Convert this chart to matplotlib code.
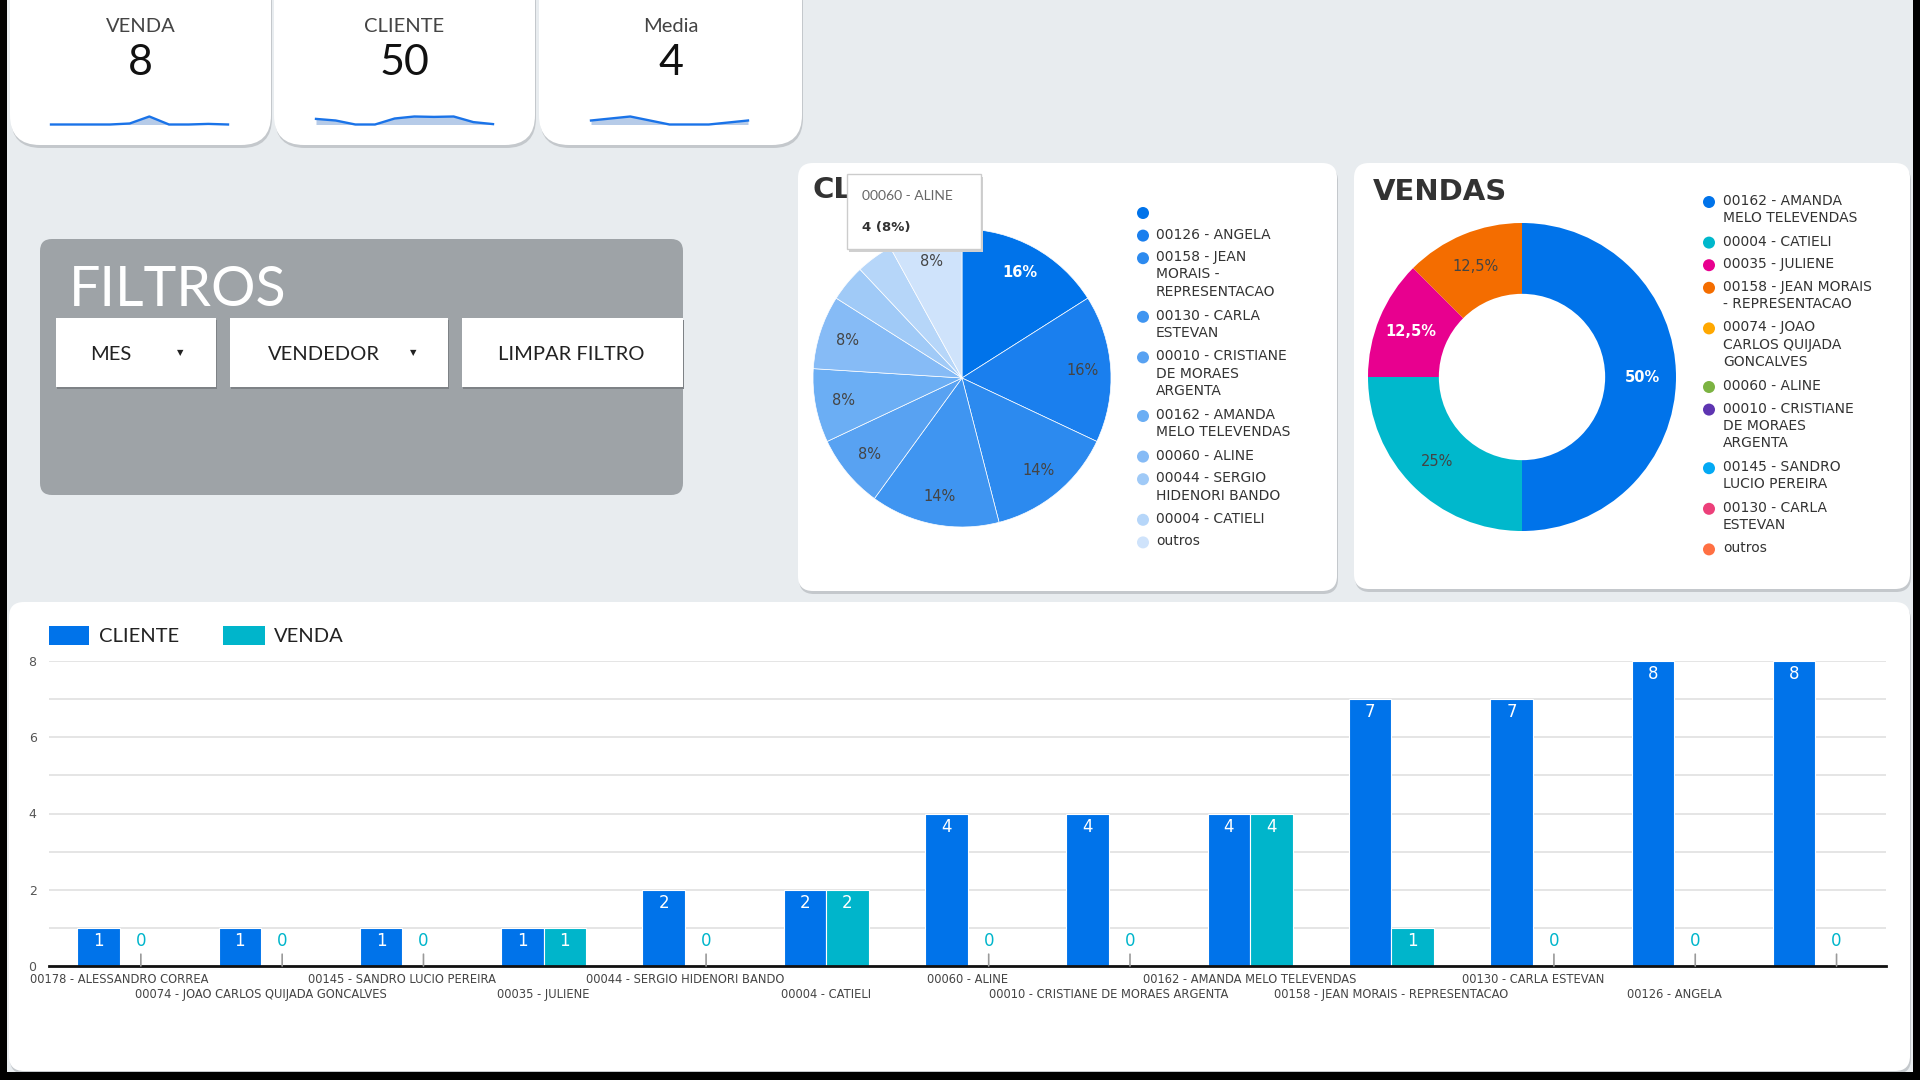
import matplotlib
matplotlib.use('Agg')
import matplotlib.pyplot as plt
from matplotlib.patches import FancyBboxPatch, Rectangle, Circle
import numpy as np

W, H = 1920, 1080
fig = plt.figure(figsize=(19.2, 10.8), dpi=100)
fig.patch.set_facecolor('#E8ECEF')

# ---------------- data ----------------
kpi_titles = ['VENDA', 'CLIENTE', 'Media']
kpi_values = ['8', '50', '4']
spark_venda = [0, 0, 0, 0, 0.5, 4, 0, 0, 0.3, 0]
spark_cliente = [7, 5, 0, 0, 7.5, 10, 9.5, 10, 3, 0.5]
spark_media = [2, 4, 0, 0, 2]

vendedores = ['00178 - ALESSANDRO CORREA', '00074 - JOAO CARLOS QUIJADA GONCALVES',
              '00145 - SANDRO LUCIO PEREIRA', '00035 - JULIENE',
              '00044 - SERGIO HIDENORI BANDO', '00004 - CATIELI', '00060 - ALINE',
              '00010 - CRISTIANE DE MORAES ARGENTA', '00162 - AMANDA MELO TELEVENDAS',
              '00158 - JEAN MORAIS - REPRESENTACAO', '00130 - CARLA ESTEVAN',
              '00126 - ANGELA', '']
cliente = [1, 1, 1, 1, 2, 2, 4, 4, 4, 7, 7, 8, 8]
venda = [0, 0, 0, 1, 0, 2, 0, 0, 4, 1, 0, 0, 0]

pie_labels = ['', '00126 - ANGELA', '00158 - JEAN\nMORAIS -\nREPRESENTACAO',
              '00130 - CARLA\nESTEVAN', '00010 - CRISTIANE\nDE MORAES\nARGENTA',
              '00162 - AMANDA\nMELO TELEVENDAS', '00060 - ALINE',
              '00044 - SERGIO\nHIDENORI BANDO', '00004 - CATIELI', 'outros']
pie_values = [8, 8, 7, 7, 4, 4, 4, 2, 2, 4]
pie_colors = ['#0073EA', '#1A7FEE', '#2C8AEF', '#3F95F1', '#58A2F2', '#6BAEF4',
              '#86BBF6', '#A0CAF7', '#B6D6F9', '#CFE3FB']

donut_labels = ['00162 - AMANDA\nMELO TELEVENDAS', '00004 - CATIELI', '00035 - JULIENE',
                '00158 - JEAN MORAIS\n- REPRESENTACAO', '00074 - JOAO\nCARLOS QUIJADA\nGONCALVES',
                '00060 - ALINE', '00010 - CRISTIANE\nDE MORAES\nARGENTA',
                '00145 - SANDRO\nLUCIO PEREIRA', '00130 - CARLA\nESTEVAN', 'outros']
donut_values = [4, 2, 1, 1, 0, 0, 0, 0, 0, 0]
donut_colors = ['#0073EA', '#00B8CC', '#E8008F', '#F46D00', '#FFA800', '#7CB342',
                '#5E35B1', '#03A9F4', '#EC407A', '#FF7043']

C_BLUE = '#0073EA'
C_TEAL = '#00B5CB'


def px_axes(x0, y0, x1, y1, **kw):
    return fig.add_axes([x0 / W, 1 - y1 / H, (x1 - x0) / W, (y1 - y0) / H], **kw)


bg = fig.add_axes([0, 0, 1, 1])
bg.set_xlim(0, W)
bg.set_ylim(H, 0)
bg.axis('off')


def card(ax, x0, y0, x1, y1, r=15, fc='white', shadow=True, z=1):
    if shadow:
        ax.add_patch(FancyBboxPatch((x0 + 1, y0 + 3), x1 - x0, y1 - y0,
                                    boxstyle=f'round,pad=0,rounding_size={r}',
                                    fc='#C4C8CC', ec='none', zorder=z))
    ax.add_patch(FancyBboxPatch((x0, y0), x1 - x0, y1 - y0,
                                boxstyle=f'round,pad=0,rounding_size={r}',
                                fc=fc, ec='none', zorder=z + 0.5))


# ---------------- KPI cards ----------------
kpi_boxes = [(10, 271), (274, 535), (539, 802)]
for (x0, x1), t, v in zip(kpi_boxes, kpi_titles, kpi_values):
    card(bg, x0, -30, x1, 145, r=30)
    cx = (x0 + x1) / 2
    bg.text(cx, 26, t, ha='center', va='center', fontsize=14.5, color='#444444',
            family='Lato', zorder=5)
    bg.text(cx, 63, v, ha='center', va='center', fontsize=31, color='#111111',
            family='Lato', zorder=5)

for vals, (x0, x1) in zip([spark_venda, spark_cliente, spark_media],
                          [(51, 228), (316, 493), (591, 748)]):
    a = px_axes(x0, 116.5, x1, 124.5)
    xs = np.arange(len(vals))
    a.fill_between(xs, 0, vals, color='#B6CBE8', lw=0)
    a.plot(xs, vals, color='#1A73E8', lw=1.7, clip_on=False)
    a.set_xlim(0, len(vals) - 1)
    a.set_ylim(0, max(vals))
    a.axis('off')

# ---------------- FILTROS panel ----------------
bg.add_patch(FancyBboxPatch((40, 239), 643, 256, boxstyle='round,pad=0,rounding_size=12',
                            fc='#9EA3A7', ec='none', zorder=1))
bg.text(69, 290, 'FILTROS', ha='left', va='center', fontsize=40, color='white',
        family='Lato', zorder=5)
for (x0, x1), lbl, lx, tri in [((56, 216), 'MES', 111, 180),
                               ((230, 448), 'VENDEDOR', 324, 413),
                               ((462, 683), 'LIMPAR FILTRO', 571, None)]:
    bg.add_patch(Rectangle((x0 + 1, 320), x1 - x0, 69, fc='#7E8286', ec='none', zorder=2))
    bg.add_patch(Rectangle((x0, 318), x1 - x0, 69, fc='white', ec='none', zorder=3))
    bg.text(lx, 355, lbl, ha='center', va='center', fontsize=14.5, color='#222222',
            family='Lato', zorder=5)
    if tri is not None:
        bg.text(tri, 353, '▼', ha='center', va='center', fontsize=6, color='#222222',
                family='DejaVu Sans', zorder=5)

# ---------------- CLIENTE pie card ----------------
card(bg, 798, 163, 1337, 591)
bg.text(812, 190, 'CLIENTE', ha='left', va='center', fontsize=21, color='#333333',
        fontweight='bold', family='DejaVu Sans', zorder=5)

pa = px_axes(813, 229, 1111, 527)
wedges, texts, autotexts = pa.pie(
    pie_values, colors=pie_colors, startangle=90, counterclock=False,
    autopct=lambda p: f'{p:.0f}%' if p >= 5 else '', pctdistance=0.81,
    wedgeprops=dict(edgecolor='white', linewidth=0.5),
    textprops=dict(fontsize=10.5, color='#444444'))
pa.set_xlim(-1, 1)
pa.set_ylim(-1, 1)
autotexts[0].set_color('white')
autotexts[0].set_fontweight('bold')


def legend_list(x_marker, x_text, y_start, labels, colors):
    y = y_start
    for lbl, col in zip(labels, colors):
        bg.add_patch(Circle((x_marker, y), 6, fc=col, ec='none', zorder=5))
        bg.text(x_text, y - 8, lbl, ha='left', va='top', fontsize=10, color='#333333',
                linespacing=1.3, family='DejaVu Sans', zorder=5)
        n = lbl.count('\n') + 1
        y += n * 18 + 4.6


legend_list(1143, 1156, 213, pie_labels, pie_colors)

# ---------------- VENDAS donut card ----------------
card(bg, 1354, 163, 1910, 589)
bg.text(1373, 192, 'VENDAS', ha='left', va='center', fontsize=21, color='#333333',
        fontweight='bold', family='DejaVu Sans', zorder=5)

da = px_axes(1368, 223, 1676, 531)


def pct_fmt(p):
    if p < 1:
        return ''
    return f'{round(p, 1):g}'.replace('.', ',') + '%'


dw, dt, dat = da.pie(donut_values, colors=donut_colors, startangle=90, counterclock=False,
                     autopct=pct_fmt, pctdistance=0.78,
                     wedgeprops=dict(width=0.46, linewidth=0),
                     textprops=dict(fontsize=10.5, color='#444444'))
da.set_xlim(-1, 1)
da.set_ylim(-1, 1)
for i in (0, 2):
    dat[i].set_color('white')
    dat[i].set_fontweight('bold')

legend_list(1709, 1723, 202, donut_labels, donut_colors)

# ---------------- bar chart card ----------------
card(bg, 9, 602, 1910, 1071)
bg.add_patch(Rectangle((49, 626), 40, 19, fc=C_BLUE, ec='none', zorder=5))
bg.text(99, 636, 'CLIENTE', ha='left', va='center', fontsize=14.5, color='#222222',
        family='Lato', zorder=5)
bg.add_patch(Rectangle((223, 626), 42, 19, fc=C_TEAL, ec='none', zorder=5))
bg.text(274, 636, 'VENDA', ha='left', va='center', fontsize=14.5, color='#222222',
        family='Lato', zorder=5)

ba = px_axes(49, 661, 1886, 966)
ba.patch.set_alpha(0)
x = np.arange(len(vendedores))
ba.bar(x - 0.15, cliente, width=0.3, color=C_BLUE, edgecolor='white', linewidth=0.8, zorder=3)
ba.bar(x + 0.15, venda, width=0.3, color=C_TEAL, edgecolor='white', linewidth=0.8, zorder=3)
ba.set_xlim(-0.5, 12.5)
ba.set_ylim(0, 8)
ba.set_yticks(range(0, 9))
ba.set_yticklabels([str(v) if v % 2 == 0 else '' for v in range(0, 9)])
ba.grid(axis='y', color='#E3E3E3', lw=1.3, zorder=0)
ba.set_axisbelow(True)
for s in ('top', 'left', 'right'):
    ba.spines[s].set_visible(False)
ba.spines['bottom'].set_color('#111111')
ba.spines['bottom'].set_linewidth(2)
ba.spines['bottom'].set_zorder(4)
# two staggered rows of category labels
ba.set_xticks(x[::2])
ba.set_xticklabels(vendedores[::2], fontsize=8.3, color='#444444')
ba.set_xticks(x[1::2], minor=True)
ba.set_xticklabels(vendedores[1::2], minor=True, fontsize=8.3, color='#444444')
ba.tick_params(axis='x', which='major', length=0, pad=5)
ba.tick_params(axis='x', which='minor', length=0, pad=16)
ba.tick_params(axis='y', length=0, pad=9, labelsize=9, labelcolor='#555555')

for xi, v in zip(x, cliente):
    if v > 0:
        ba.annotate(str(v), (xi - 0.15, v), xytext=(0, -13), textcoords='offset pixels',
                    ha='center', va='center', color='white', fontsize=12, zorder=6)
for xi, v in zip(x, venda):
    if v > 0:
        ba.annotate(str(v), (xi + 0.15, v), xytext=(0, -13), textcoords='offset pixels',
                    ha='center', va='center', color='white', fontsize=12, zorder=6)
    else:
        ba.annotate(str(v), (xi + 0.15, v), xytext=(0, 25), textcoords='offset pixels',
                    ha='center', va='center', color=C_TEAL, fontsize=12, zorder=6,
                    arrowprops=dict(arrowstyle='-', color='#9A9A9A', lw=1.2,
                                    shrinkA=1, shrinkB=0))

# ---------------- overlay: tooltip & frame ----------------
ov = fig.add_axes([0, 0, 1, 1])
ov.set_xlim(0, W)
ov.set_ylim(H, 0)
ov.axis('off')
ov.patch.set_alpha(0)
ov.add_patch(Rectangle((849, 177), 134, 75, fc='#D0D0D0', ec='none', zorder=1))
ov.add_patch(Rectangle((847, 174), 134, 75, fc='white', ec='#CCCCCC', lw=1, zorder=2))
ov.text(862, 196, '00060 - ALINE', ha='left', va='center', fontsize=10, color='#666666',
        family='Lato', zorder=3)
ov.text(862, 227, '4 (8%)', ha='left', va='center', fontsize=9.5, color='#333333',
        fontweight='bold', family='DejaVu Sans', zorder=3)

ov.add_patch(Rectangle((0, 0), 7, H, fc='black', ec='none', zorder=10))
ov.add_patch(Rectangle((1913, 0), 7, H, fc='black', ec='none', zorder=10))
ov.add_patch(Rectangle((0, 1072), W, 8, fc='black', ec='none', zorder=10))

fig.savefig('out.png', dpi=100, facecolor=fig.get_facecolor())
